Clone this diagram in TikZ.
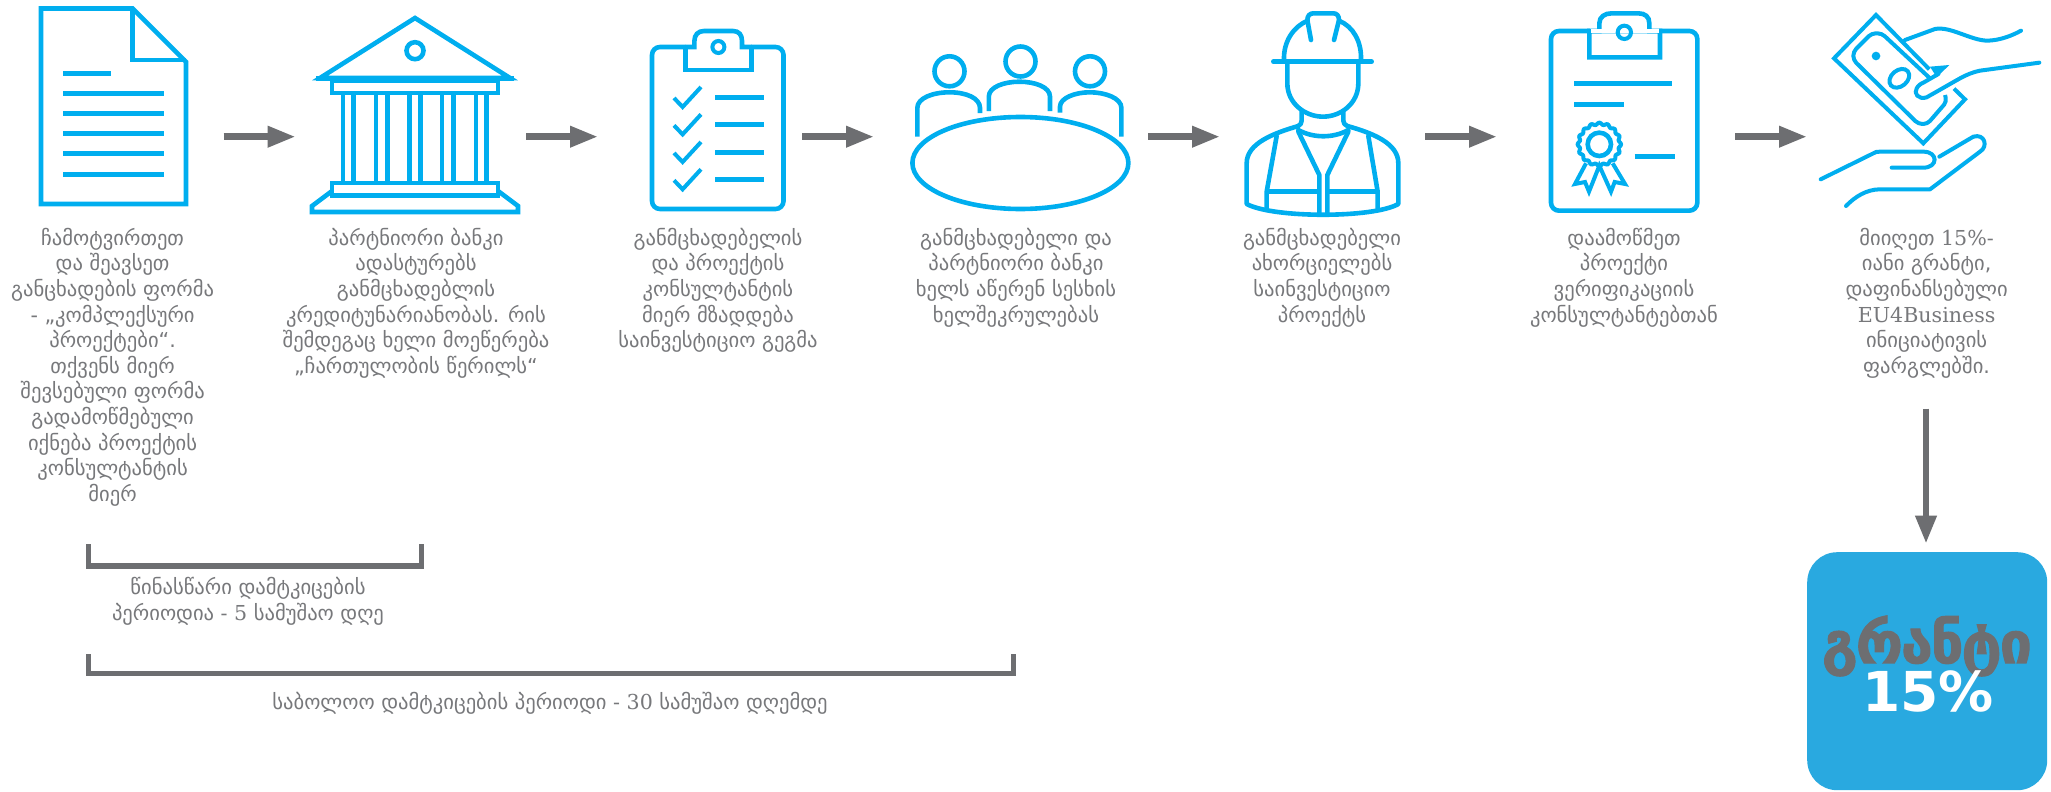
\documentclass[tikz,border=0pt]{standalone}
\usepackage{fontspec}
\setmainfont{DejaVu Sans}
\newfontfamily\ser{DejaVu Serif}
\newfontfamily\grantf[BoldFeatures={FakeBold=2,LetterSpace=-3}]{DejaVu Sans}
\usetikzlibrary{arrows.meta}
\definecolor{iconblue}{HTML}{00AEEF}
\definecolor{boxblue}{HTML}{29A9E0}
\definecolor{arrgray}{HTML}{6D6E71}
\definecolor{txtgray}{HTML}{77787B}
\newcommand{\fs}{\rule{0pt}{18pt}}
\tikzset{
 icon/.style={draw=iconblue,line width=4.6pt,line join=miter,fill=none},
 rline/.style={icon,line cap=round,line join=round},
 bar/.style={draw=iconblue,line width=5pt},
 flow/.style={draw=arrgray,line width=6.6pt,-{Triangle[length=28pt,width=20pt]}},
 brace/.style={draw=arrgray,line width=5.5pt,line join=miter},
 caption/.style={font=\fontsize{20.6}{25.6}\selectfont,text=txtgray,align=center,anchor=north,inner sep=0pt},
}
\begin{document}
\begin{tikzpicture}[x=1pt,y=-1pt]
\useasboundingbox (0,0) rectangle (2051,792);
\fill[white] (0,0) rectangle (2051,792);

% document icon
\draw[icon] (41,8.5) -- (132.6,8.5) -- (186,62) -- (186,204) -- (41,204) -- cycle;
\draw[icon] (132.6,8.5) -- (132.6,60) -- (186,60);
\foreach \yy/\xe in {73.5/111,93.5/163.8,113.7/163.8,133.7/163.8,153.7/163.8,174/163.8}
  \draw[bar] (63,\yy) -- (\xe,\yy);

% bank icon
\draw[icon] (415,18) -- (510,78) -- (320,78) -- cycle;
\draw[bar] (316,79) -- (514,79);
\draw[icon] (415,50.7) circle (8.5);
\draw[icon,line width=4.6pt] (332,81) rectangle (498,93);
\foreach \cx in {343,353.6,375.9,387.5,409.4,420.5,442,453.6,475.9,486.6}
  \draw[icon] (\cx,95) -- (\cx,182);
\draw[icon] (332,183) -- (498,183) -- (498,195.5) -- (332,195.5) -- cycle;
\draw[icon] (332,191) -- (312,206) -- (312,212) -- (518,212) -- (518,206) -- (498,191);

% arrows
\coordinate (a1s) at (223.5,136.7); \coordinate (a1e) at (295.6,136.7);
\coordinate (a2s) at (526,136.7);   \coordinate (a2e) at (598,136.7);
\coordinate (a3s) at (802,136.7);   \coordinate (a3e) at (874,136.7);
\coordinate (a4s) at (1148,136.7);  \coordinate (a4e) at (1220,136.7);
\coordinate (a5s) at (1425,136.7);  \coordinate (a5e) at (1497,136.7);
\coordinate (a6s) at (1735,136.7);  \coordinate (a6e) at (1807,136.7);
\coordinate (a7s) at (1926,408.7);  \coordinate (a7e) at (1926,543.7);
\foreach \n in {1,...,7} \draw[flow] (a\n s) -- (a\n e);

% checklist icon
\draw[icon,rounded corners=8pt] (652,47) rectangle (783.5,209);
\fill[white] (686,44) rectangle (751,50);
\draw[icon] (685.7,47) -- (685.7,70) -- (751.5,70) -- (751.5,47);
\draw[icon] (685.7,47) -- (694.4,47) -- (694.4,41) .. controls (694.4,35) and (698,31) .. (704,31) -- (733,31) .. controls (739,31) and (742,35) .. (742,41) -- (742,47) -- (751.5,47);
\draw[icon,line width=4pt] (718.4,47) circle (6);
\foreach \dy in {0,27.4,55,82.3}{
  \draw[icon,line width=4pt] (674,98+\dy) -- (682.6,107+\dy) -- (701,87+\dy);
  \draw[bar] (715,97+\dy) -- (764,97+\dy);
}

% meeting icon
\draw[icon] (1020.4,163) ellipse (108 and 46);
\foreach \cx/\cy in {949.5/71.3,1020.5/61.5,1090/71.3}
  \draw[icon] (\cx,\cy) circle (15);
\draw[icon] (917.3,136.7) -- (917.3,108) .. controls (917.3,98) and (933,92.3) .. (949.5,92.3) .. controls (966,92.3) and (980,98) .. (980,108) -- (980,113);
\draw[icon] (988.8,111) -- (988.8,96.7) .. controls (988.8,87) and (1004,81.7) .. (1019.4,81.7) .. controls (1035,81.7) and (1050,87) .. (1050,96.7) -- (1050,111);
\draw[icon] (1060,112.7) -- (1060,106.7) .. controls (1060,98) and (1075,92.3) .. (1089.8,92.3) .. controls (1105,92.3) and (1121.4,98) .. (1121.4,108) -- (1121.4,136.7);

% worker icon
\begin{scope}[shift={(1230,0)},scale=0.33333]
\draw[rline] (130,185) -- (425,185);
\draw[rline] (162,180) .. controls (160,125) and (190,80) .. (233,62);
\draw[rline] (393,180) .. controls (395,125) and (370,80) .. (327,62);
\draw[rline] (243,120) -- (232,60) .. controls (232,47) and (240,40) .. (250,40) -- (310,40) .. controls (320,40) and (327,47) .. (327,60) -- (312,120);
\draw[rline] (172,190) -- (172,250) .. controls (172,310) and (225,350) .. (279,350) .. controls (333,350) and (385,310) .. (385,250) -- (385,190);
\draw[rline] (215,335) -- (215,362) .. controls (215,370) and (210,375) .. (205,378) .. controls (130,400) and (50,430) .. (50,490) -- (50,612) .. controls (130,655) and (430,655) .. (505,612) -- (505,490) .. controls (505,430) and (430,400) .. (352,378) .. controls (345,375) and (340,370) .. (340,362) -- (340,335);
\draw[rline] (205,390) .. controls (250,415) and (310,415) .. (355,390);
\draw[rline] (205,395) -- (268,525) -- (268,640);
\draw[rline] (355,395) -- (292,525) -- (292,640);
\draw[rline] (140,408) -- (110,575) -- (110,625);
\draw[rline] (415,408) -- (443,575) -- (443,625);
\draw[icon] (110,575) -- (268,575);
\draw[icon] (292,575) -- (443,575);
\end{scope}

% certificate icon
\begin{scope}[shift={(1540,0)},scale=0.33333]
\draw[icon,rounded corners=8pt] (33,93) rectangle (472,632);
\fill[white] (150,85) rectangle (358,100);
\draw[icon] (148,93) -- (148,172) -- (360,172) -- (360,93) -- (328,93) -- (328,70) .. controls (328,50) and (315,40) .. (295,40) -- (215,40) .. controls (195,40) and (178,50) .. (178,70) -- (178,93) -- cycle;
\fill[white] (152,88) rectangle (356,99);
\draw[icon,line width=4pt] (253,97) circle (20);
\draw[bar] (103,252) -- (397,252);
\draw[bar] (103,313) -- (253,313);
\draw[bar] (284,471) -- (404,471);
\draw[icon,line width=4pt,smooth,domain=0:360,samples=145] plot ({178+62*cos(\x)+3*cos(16*\x)*cos(\x)},{433+62*sin(\x)+3*cos(16*\x)*sin(\x)}) -- cycle;
\draw[icon,line width=4.6pt] (178,433) circle (35);
\draw[icon,line width=4pt] (138,490) -- (105,552) -- (135,546) -- (147,575) -- (178,497) -- (213,575) -- (224,546) -- (255,552) -- (218,490);
\end{scope}

% money icon
\begin{scope}[shift={(1810,0)},scale=0.33333]
\draw[icon,line width=4pt] (358,208) -- (198,45) -- (72,175) -- (340,430) -- (465,298) -- (432,266);
\draw[icon,line width=4pt,rounded corners=4pt] (360,235) -- (215,100) -- (185,100) -- (130,155) -- (130,180) -- (325,372) -- (352,372) -- (410,305) -- (405,285);
\fill[iconblue] (198,168) circle (13);
\draw[icon,line width=4pt,rotate around={40:(268,235)}] (268,235) ellipse (33 and 24);
\fill[iconblue] (360,200) -- (418,195) -- (380,232) -- cycle;
\draw[rline,line width=4pt] (285,120) -- (375,87) .. controls (420,78) and (480,120) .. (530,122) .. controls (570,122) and (610,105) .. (633,92);
\draw[rline,line width=4pt] (688,188) -- (510,212) .. controls (490,216) and (470,224) .. (450,235) -- (350,292) .. controls (325,300) and (310,280) .. (320,265) .. controls (325,255) and (335,250) .. (340,248) -- (385,222);
\draw[rline,line width=4pt] (32,538) -- (190,460) .. controls (195,456) and (200,455) .. (210,455) -- (340,455) .. controls (385,455) and (385,503) .. (340,503) -- (245,503);
\draw[rline,line width=4pt] (388,470) -- (490,410) .. controls (525,400) and (535,440) .. (510,455) -- (360,568) -- (210,568) .. controls (170,568) and (135,590) .. (108,618);
\end{scope}

% captions
\node[caption] (c1) at (112.6,227) {\fs ჩამოტვირთეთ\\და შეავსეთ\\განცხადების ფორმა\\- „კომპლექსური\\პროექტები“.\\თქვენს მიერ\\შევსებული ფორმა\\გადამოწმებული\\იქნება პროექტის\\კონსულტანტის\\მიერ};
\node[caption] (c2) at (416,227) {\fs პარტნიორი ბანკი\\ადასტურებს\\განმცხადებლის\\კრედიტუნარიანობას. რის\\შემდეგაც ხელი მოეწერება\\„ჩართულობის წერილს“};
\node[caption] (c3) at (718,227) {\fs განმცხადებელის\\და პროექტის\\კონსულტანტის\\მიერ მზადდება\\საინვესტიციო გეგმა};
\node[caption] (c4) at (1016,227) {\fs განმცხადებელი და\\პარტნიორი ბანკი\\ხელს აწერენ სესხის\\ხელშეკრულებას};
\node[caption] (c5) at (1322,227) {\fs განმცხადებელი\\ახორციელებს\\საინვესტიციო\\პროექტს};
\node[caption] (c6) at (1624,227) {\fs დაამოწმეთ\\პროექტი\\ვერიფიკაციის\\კონსულტანტებთან};
\node[caption] (c7) at (1926.6,227) {\fs მიიღეთ {\ser 15\%-}\\იანი გრანტი,\\დაფინანსებული\\{\ser EU4Business}\\ინიციატივის\\ფარგლებში.};

% brackets
\draw[brace] (88.7,544) -- (88.7,566) -- (421.6,566) -- (421.6,544);
\node[caption] (b1) at (248,576.5) {\fs წინასწარი დამტკიცების\\პერიოდია {\ser - 5} სამუშაო დღე};
\draw[brace] (88.7,654) -- (88.7,673.7) -- (1013.4,673.7) -- (1013.4,654);
\node[caption] (b2) at (550,691) {\fs საბოლოო დამტკიცების პერიოდი {\ser - 30} სამუშაო დღემდე};

% grant box
\node[fill=boxblue,rounded corners=30pt,minimum width=240pt,minimum height=238pt,inner sep=0pt,anchor=north west] (box) at (1807,552) {};
\node[font=\fontsize{57}{57}\selectfont\grantf\bfseries,text=arrgray,anchor=base,inner sep=0pt] (grant) at (1927,663) {გრანტი};
\node[font=\fontsize{55}{55}\selectfont\bfseries,text=white,anchor=base,inner sep=0pt] (pct) at (1928,711) {15\%};
\end{tikzpicture}
\end{document}
